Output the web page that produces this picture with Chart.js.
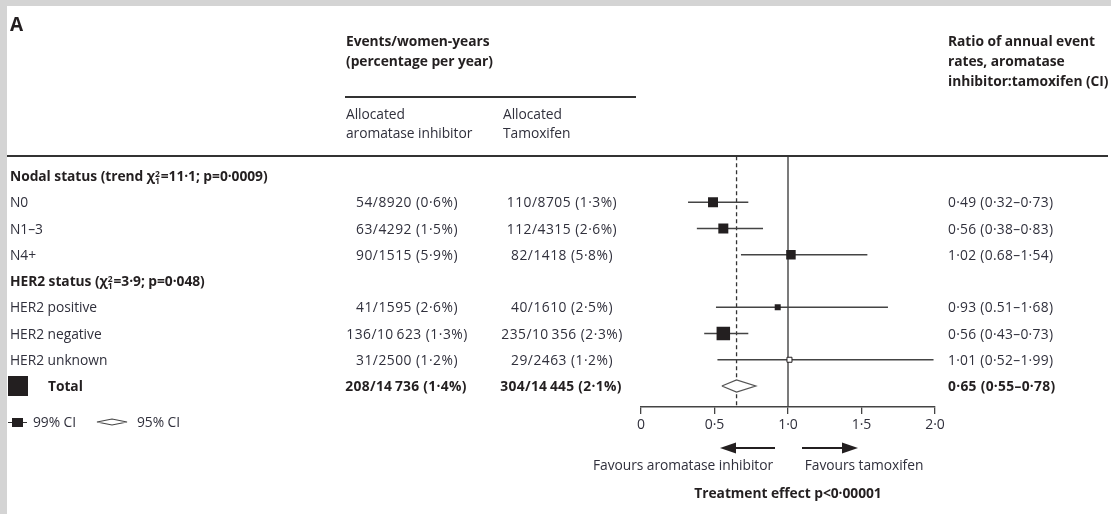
<!DOCTYPE html>
<html>
<head>
<meta charset="utf-8">
<script src="https://cdn.jsdelivr.net/npm/chart.js@4"></script>
<style>
  body { margin:0; width:1111px; height:514px; position:relative; overflow:hidden; background:#fff;
         font-family:'Open Sans', sans-serif; font-size:13.8px; color:#30303c; letter-spacing:-0.05px; }
  #edgeL { position:absolute; left:0; top:0; width:7px; height:514px; background:#d4d4d4; }
  #edgeT { position:absolute; left:0; top:0; width:1111px; height:6px; background:#d4d4d4; }
  canvas { position:absolute; left:0; top:0; }
  .t { position:absolute; line-height:20px; white-space:nowrap; z-index:2; }
  .b { font-weight:700; color:#231f20; }
  .c { transform:translateX(-50%); }
  .n { letter-spacing:0.3px; }
  .e { letter-spacing:0.5px; }
  .rule { position:absolute; background:#333; z-index:2; }
  .chi { display:inline-block; vertical-align:-3px; font-size:8.5px; line-height:7.5px; margin:0 1px 0 0; }
</style>
</head>
<body>
<div id="edgeL"></div><div id="edgeT"></div>
<canvas id="c" width="1111" height="514"></canvas>
<script>
// ---- data ----
const subgroups  = ['N0', 'N1–3', 'N4+', 'HER2 positive', 'HER2 negative', 'HER2 unknown'];
const subgroupRow = [1, 2, 3, 5, 6, 7];
const aiEvents   = ['54/8920 (0·6%)', '63/4292 (1·5%)', '90/1515 (5·9%)', '41/1595 (2·6%)', '136/10\u2009623 (1·3%)', '31/2500 (1·2%)'];
const tamEvents  = ['110/8705 (1·3%)', '112/4315 (2·6%)', '82/1418 (5·8%)', '40/1610 (2·5%)', '235/10\u2009356 (2·3%)', '29/2463 (1·2%)'];
const ratio      = [0.49, 0.56, 1.02, 0.93, 0.56, 1.01];
const ciLow      = [0.32, 0.38, 0.68, 0.51, 0.43, 0.52];
const ciHigh     = [0.73, 0.83, 1.54, 1.68, 0.73, 1.99];
const ciText     = ['0·49 (0·32–0·73)', '0·56 (0·38–0·83)', '1·02 (0.68–1·54)', '0·93 (0.51–1·68)', '0·56 (0·43–0·73)', '1·01 (0·52–1·99)'];
const totalRow = 8;
const totalRatio = 0.65, totalLow = 0.55, totalHigh = 0.78;
const totalAi = '208/14\u2009736 (1·4%)', totalTam = '304/14\u2009445 (2·1%)', totalCi = '0·65 (0·55–0·78)';
const xTicks = [0, 0.5, 1, 1.5, 2];
const xTickLabels = ['0', '0·5', '1·0', '1·5', '2·0'];

// ---- styling ----
const markerSide = [10, 10, 9.5, 6, 13.5, 5];   // square side in px
const markerOpen = [false, false, false, false, false, true];
const ink = '#231f20', lineCol = '#444';
const diamondHalf = 0.23;  // half height in row units

const datasets = [];
// total diamond (on top of the reference lines)
datasets.push({
  type: 'line', order: 0,
  data: [{x: totalLow, y: totalRow}, {x: totalRatio, y: totalRow - diamondHalf},
         {x: totalHigh, y: totalRow}, {x: totalRatio, y: totalRow + diamondHalf},
         {x: totalLow, y: totalRow}],
  borderColor: '#555', borderWidth: 1.3, backgroundColor: '#fff', fill: 'shape',
  pointRadius: 0, tension: 0
});
// squares
datasets.push({
  type: 'scatter', order: 1,
  data: ratio.map((r, i) => ({x: r, y: subgroupRow[i]})),
  pointStyle: 'rect',
  pointRadius: markerSide.map(s => s / (2 * Math.SQRT1_2)),
  pointBackgroundColor: markerOpen.map(o => o ? '#fff' : ink),
  pointBorderColor: ink, pointBorderWidth: markerOpen.map(o => o ? 1 : 0)
});
// CI lines
ratio.forEach((r, i) => {
  datasets.push({
    type: 'line', order: 2,
    data: [{x: ciLow[i], y: subgroupRow[i]}, {x: ciHigh[i], y: subgroupRow[i]}],
    borderColor: lineCol, borderWidth: 1.4, pointRadius: 0
  });
});
// reference lines: overall ratio (dashed) and no effect
datasets.push({
  type: 'line', order: 5,
  data: [{x: totalRatio, y: -0.75}, {x: totalRatio, y: 8.8}],
  borderColor: '#333', borderWidth: 1.3, borderDash: [4, 3], pointRadius: 0
});
datasets.push({
  type: 'line', order: 5,
  data: [{x: 1, y: -0.75}, {x: 1, y: 8.8}],
  borderColor: '#444', borderWidth: 1.4, pointRadius: 0
});

const chart = new Chart(document.getElementById('c'), {
  data: { datasets },
  options: {
    responsive: false, animation: false,
    layout: { padding: { left: 641, right: 176, top: 155, bottom: 67 } },
    plugins: { legend: { display: false }, tooltip: { enabled: false } },
    scales: {
      x: {
        type: 'linear', min: 0, max: 2,
        afterBuildTicks: s => { s.ticks = xTicks.map(v => ({value: v})); },
        afterFit: s => { s.height = 40; },
        ticks: { callback: (v) => xTickLabels[xTicks.indexOf(v)], color: '#30303c', padding: 3,
                 font: { family: 'Open Sans', size: 14 } },
        grid: { drawOnChartArea: false, drawTicks: true, tickLength: 7, color: '#444', lineWidth: 1.3 },
        border: { display: true, color: '#444', width: 1.5 }
      },
      y: { type: 'linear', min: -0.8, max: 8.8, reverse: true, display: false }
    }
  }
});

// ---- text laid out against the chart's own y scale ----
function put(html, x, y, cls) {
  const d = document.createElement('div');
  d.className = 't ' + (cls || '');
  d.innerHTML = html;
  d.style.left = x + 'px';
  d.style.top = (y - 10) + 'px';
  document.body.appendChild(d);
  return d;
}
const Y = v => chart.scales.y.getPixelForValue(v);
const chi = '\u03C7<span class="chi">2<br>1</span>';

put('A', 10, 24, 'b').style.fontSize = '19px';
put('Events/women-years', 346, 41, 'b');
put('(percentage per year)', 346, 61, 'b');
put('Allocated', 346, 114);
put('aromatase inhibitor', 346, 133);
put('Allocated', 503, 114);
put('Tamoxifen', 503, 133);
put('Ratio of annual event', 948, 41, 'b');
put('rates, aromatase', 948, 61, 'b');
put('inhibitor:tamoxifen (CI)', 948, 81, 'b');

put('Nodal status (trend ' + chi + '=11·1; p=0·0009)', 10, Y(0), 'b');
put('HER2 status (' + chi + '=3·9; p=0·048)', 10, Y(4), 'b');
subgroups.forEach((g, i) => {
  const y = Y(subgroupRow[i]);
  put(g, 10, y);
  put(aiEvents[i], 407, y, 'c e');
  put(tamEvents[i], 562, y, 'c e');
  put(ciText[i], 948, y, 'n');
});
put('Total', 48, Y(totalRow), 'b');
put(totalAi, 406, Y(totalRow), 'b c n');
put(totalTam, 561, Y(totalRow), 'b c n');
put(totalCi, 948, Y(totalRow), 'b n');

// rules and legend
function rule(x, y, w, h) {
  const d = document.createElement('div');
  d.className = 'rule';
  Object.assign(d.style, {left: x + 'px', top: y + 'px', width: w + 'px', height: h + 'px'});
  document.body.appendChild(d);
}
rule(345, 96, 291, 1.5);
rule(7, 155, 1101, 2);
const tb = document.createElement('div');
tb.className = 'rule';
Object.assign(tb.style, {left: '8px', top: (Y(totalRow) - 10) + 'px', width: '20px', height: '20px', background: ink});
document.body.appendChild(tb);

rule(8, 421.5, 19, 1.5);
const sq = document.createElement('div');
sq.className = 'rule';
Object.assign(sq.style, {left: '12px', top: '417.5px', width: '11px', height: '9px', background: ink});
document.body.appendChild(sq);
put('99% CI', 33, 422);
put('95% CI', 137, 422);

const svg = `
<svg width="1111" height="514" style="position:absolute;left:0;top:0;z-index:1">
  <polygon points="97,422 112,419 127,422 112,425" fill="#fff" stroke="#444" stroke-width="1.2"/>
  <line x1="775" y1="448" x2="732" y2="448" stroke="${ink}" stroke-width="2"/>
  <polygon points="720,448 736,442.5 736,453.5" fill="${ink}"/>
  <line x1="802" y1="448" x2="846" y2="448" stroke="${ink}" stroke-width="2"/>
  <polygon points="858,448 842,442.5 842,453.5" fill="${ink}"/>
</svg>`;
document.body.insertAdjacentHTML('beforeend', svg);

put('Favours aromatase inhibitor', 683, 465, 'c');
put('Favours tamoxifen', 864, 465, 'c');
put('Treatment effect p&lt;0·00001', 788, 493, 'b c');
</script>
</body>
</html>
